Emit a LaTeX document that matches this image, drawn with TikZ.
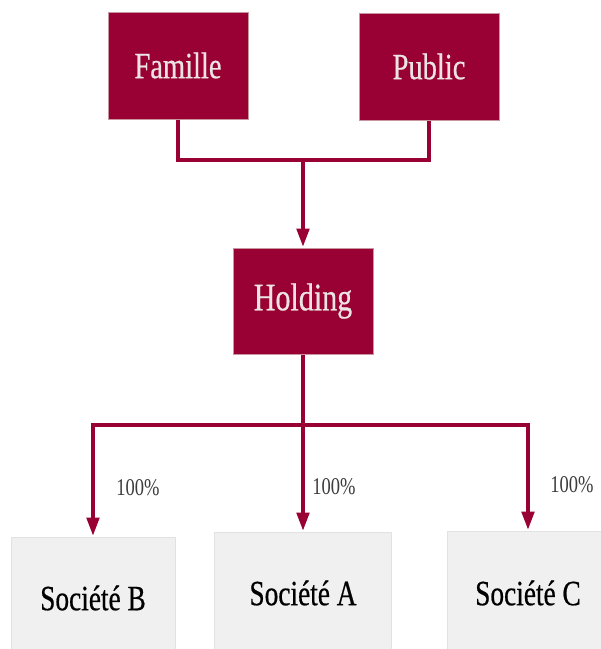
\documentclass[tikz,border=0pt]{standalone}
\usepackage{fontspec}
\setmainfont{Liberation Serif}
\newfontfamily\boxfont[FakeStretch=0.77,FakeBold=0.5]{Liberation Serif}
\newfontfamily\pctfont[FakeStretch=0.77]{Liberation Serif}
\usetikzlibrary{arrows.meta}
\definecolor{wine}{RGB}{153,0,51}
\definecolor{wineedge}{RGB}{200,150,160}
\definecolor{paleink}{RGB}{236,228,228}
\definecolor{greybox}{RGB}{240,240,240}
\definecolor{greyedge}{RGB}{226,226,226}
\definecolor{pctink}{RGB}{60,60,60}
\begin{document}
\begin{tikzpicture}[x=1pt,y=-1pt,
  owner/.style={draw=wineedge, line width=1pt, fill=wine, text=paleink,
    inner sep=0pt, font=\boxfont\fontsize{37}{40}\selectfont},
  company/.style={draw=greyedge, line width=1pt, fill=greybox, text=black,
    inner sep=0pt, font=\boxfont\fontsize{35.5}{38}\selectfont},
  link/.style={draw=wine, line width=4.7pt, line join=miter},
  arrowlink/.style={link, -{Triangle[length=19pt,width=12pt]}},
  pct/.style={text=pctink, inner sep=0pt, font=\pctfont\fontsize{24}{26}\selectfont}]
\useasboundingbox (0,0) rectangle (601,649);
\clip (0,0) rectangle (601,649);

% shareholders
\node[owner, minimum width=140pt, minimum height=107pt] (fam) at (178,65.5) {Famille};
\node[owner, minimum width=140pt, minimum height=107pt] (pub) at (429,66.5) {Public};

% holding company
\node[owner, minimum width=140pt, minimum height=106pt,
  font=\boxfont\fontsize{39}{42}\selectfont] (hold) at (303,301) {Holding};

% subsidiaries (boxes run past the lower edge)
\node[company, minimum width=164pt, minimum height=118pt] (socB) at (93,596) {};
\node[company, minimum width=177pt, minimum height=123pt] (socA) at (303,593.5) {};
\node[company, minimum width=162pt, minimum height=124pt] (socC) at (528,593) {};
\node[company, draw=none, fill=none] (txtB) at (93,598) {Société B};
\node[company, draw=none, fill=none] (txtA) at (303,593) {Société A};
\node[company, draw=none, fill=none] (txtC) at (528,593) {Société C};

% junction points
\coordinate (bar) at (303,160);
\coordinate (split) at (303,425);

% ownership lines
\draw[link] (fam.south) |- (bar) -| (pub.south);
\draw[arrowlink] (bar) -- (hold.north);
\draw[link] (hold.south) -- (split);
\draw[arrowlink] (split) -| (socB.north);
\draw[arrowlink] (split) -- (socA.north);
\draw[arrowlink] (split) -| (socC.north);

% stakes
\node[pct] (pB) at (138,488) {100\%};
\node[pct] (pA) at (334,487) {100\%};
\node[pct] (pC) at (572,485) {100\%};
\end{tikzpicture}
\end{document}
